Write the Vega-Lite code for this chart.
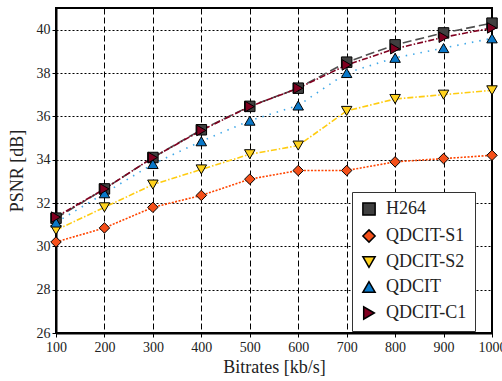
{
  "$schema": "https://vega.github.io/schema/vega-lite/v6.json",
  "width": 436,
  "height": 325,
  "autosize": {"type": "none"},
  "padding": {"left": 56, "top": 8, "right": 10, "bottom": 48},
  "background": "white",
  "config": {
    "font": "Liberation Serif",
    "view": {"stroke": "black", "strokeWidth": 2},
    "axis": {
      "labelFont": "Liberation Serif",
      "titleFont": "Liberation Serif",
      "labelFontSize": 14,
      "titleFontSize": 18,
      "titleFontWeight": "normal",
      "labelColor": "#222",
      "titleColor": "#222",
      "domainColor": "black",
      "domainWidth": 2,
      "tickColor": "black",
      "tickSize": 4,
      "gridColor": "black",
      "gridOpacity": 1,
      "gridWidth": 1,
      "labelFlush": false
    },
    "legend": {
      "labelFont": "Liberation Serif",
      "labelFontSize": 18,
      "labelColor": "#222",
      "fillColor": "white",
      "strokeColor": "#333",
      "padding": 8,
      "rowPadding": 7,
      "symbolSize": 150,
      "labelOffset": 8
    }
  },
  "data": {
    "values": [
      {"series": "H264", "bitrate": 100, "psnr": 31.3},
      {"series": "H264", "bitrate": 200, "psnr": 32.65},
      {"series": "H264", "bitrate": 300, "psnr": 34.1},
      {"series": "H264", "bitrate": 400, "psnr": 35.38},
      {"series": "H264", "bitrate": 500, "psnr": 36.46},
      {"series": "H264", "bitrate": 600, "psnr": 37.3},
      {"series": "H264", "bitrate": 700, "psnr": 38.5},
      {"series": "H264", "bitrate": 800, "psnr": 39.3},
      {"series": "H264", "bitrate": 900, "psnr": 39.85},
      {"series": "H264", "bitrate": 1000, "psnr": 40.3},
      {"series": "QDCIT-S1", "bitrate": 100, "psnr": 30.2},
      {"series": "QDCIT-S1", "bitrate": 200, "psnr": 30.85},
      {"series": "QDCIT-S1", "bitrate": 300, "psnr": 31.8},
      {"series": "QDCIT-S1", "bitrate": 400, "psnr": 32.35},
      {"series": "QDCIT-S1", "bitrate": 500, "psnr": 33.1},
      {"series": "QDCIT-S1", "bitrate": 600, "psnr": 33.5},
      {"series": "QDCIT-S1", "bitrate": 700, "psnr": 33.5},
      {"series": "QDCIT-S1", "bitrate": 800, "psnr": 33.9},
      {"series": "QDCIT-S1", "bitrate": 900, "psnr": 34.05},
      {"series": "QDCIT-S1", "bitrate": 1000, "psnr": 34.2},
      {"series": "QDCIT-S2", "bitrate": 100, "psnr": 30.75},
      {"series": "QDCIT-S2", "bitrate": 200, "psnr": 31.8},
      {"series": "QDCIT-S2", "bitrate": 300, "psnr": 32.85},
      {"series": "QDCIT-S2", "bitrate": 400, "psnr": 33.55},
      {"series": "QDCIT-S2", "bitrate": 500, "psnr": 34.25},
      {"series": "QDCIT-S2", "bitrate": 600, "psnr": 34.65},
      {"series": "QDCIT-S2", "bitrate": 700, "psnr": 36.25},
      {"series": "QDCIT-S2", "bitrate": 800, "psnr": 36.8},
      {"series": "QDCIT-S2", "bitrate": 900, "psnr": 37.0},
      {"series": "QDCIT-S2", "bitrate": 1000, "psnr": 37.2},
      {"series": "QDCIT", "bitrate": 100, "psnr": 31.1},
      {"series": "QDCIT", "bitrate": 200, "psnr": 32.45},
      {"series": "QDCIT", "bitrate": 300, "psnr": 33.8},
      {"series": "QDCIT", "bitrate": 400, "psnr": 34.85},
      {"series": "QDCIT", "bitrate": 500, "psnr": 35.8},
      {"series": "QDCIT", "bitrate": 600, "psnr": 36.5},
      {"series": "QDCIT", "bitrate": 700, "psnr": 38.0},
      {"series": "QDCIT", "bitrate": 800, "psnr": 38.7},
      {"series": "QDCIT", "bitrate": 900, "psnr": 39.15},
      {"series": "QDCIT", "bitrate": 1000, "psnr": 39.6},
      {"series": "QDCIT-C1", "bitrate": 100, "psnr": 31.35},
      {"series": "QDCIT-C1", "bitrate": 200, "psnr": 32.65},
      {"series": "QDCIT-C1", "bitrate": 300, "psnr": 34.1},
      {"series": "QDCIT-C1", "bitrate": 400, "psnr": 35.35},
      {"series": "QDCIT-C1", "bitrate": 500, "psnr": 36.45},
      {"series": "QDCIT-C1", "bitrate": 600, "psnr": 37.3},
      {"series": "QDCIT-C1", "bitrate": 700, "psnr": 38.37},
      {"series": "QDCIT-C1", "bitrate": 800, "psnr": 39.12},
      {"series": "QDCIT-C1", "bitrate": 900, "psnr": 39.65},
      {"series": "QDCIT-C1", "bitrate": 1000, "psnr": 40.08}
    ]
  },
  "encoding": {
    "x": {
      "field": "bitrate", "type": "quantitative",
      "scale": {"domain": [100, 1000], "nice": false, "zero": false},
      "axis": {"values": [100, 200, 300, 400, 500, 600, 700, 800, 900, 1000], "format": "d", "title": "Bitrates [kb/s]", "gridDash": [6, 3], "labelPadding": 3, "titlePadding": 4, "labelFont": "Liberation Serif", "titleFont": "Liberation Serif"}
    },
    "y": {
      "field": "psnr", "type": "quantitative",
      "scale": {"domain": [26, 41], "nice": false, "zero": false},
      "axis": {"values": [26, 28, 30, 32, 34, 36, 38, 40], "title": "PSNR [dB]", "gridDash": [2, 2], "labelPadding": 2, "titlePadding": 10, "labelFont": "Liberation Serif", "titleFont": "Liberation Serif"}
    }
  },
  "layer": [
    {
      "mark": {"type": "line", "strokeWidth": 1.6},
      "encoding": {
        "detail": {"field": "series"},
        "stroke": {
          "field": "series", "type": "nominal",
          "scale": {"domain": ["QDCIT-C1", "QDCIT", "QDCIT-S2", "QDCIT-S1", "H264"], "range": ["#800020", "#40a8e8", "#ffcc10", "#ff4500", "#505050"]},
          "legend": null
        },
        "strokeDash": {
          "field": "series", "type": "nominal",
          "scale": {"domain": ["QDCIT-C1", "QDCIT", "QDCIT-S2", "QDCIT-S1", "H264"], "range": [[6, 2, 1.5, 2], [1.5, 6], [6, 2, 1.5, 2], [2, 1.5], [9, 4]]},
          "legend": null
        }
      }
    },
    {
      "mark": {"type": "point", "filled": true, "size": 110, "stroke": "black", "strokeWidth": 1, "opacity": 1},
      "encoding": {
        "shape": {
          "field": "series", "type": "nominal",
          "scale": {"domain": ["H264", "QDCIT-S1", "QDCIT-S2", "QDCIT", "QDCIT-C1"], "range": ["square", "diamond", "triangle-down", "triangle-up", "triangle-right"]},
          "legend": {
            "title": null, "orient": "none", "legendX": 296, "legendY": 184,
            "labelFont": "Liberation Serif", "labelFontSize": 18,
            "encode": {"symbols": {"update": {"stroke": {"value": "black"}, "strokeWidth": {"value": 1}}}}
          }
        },
        "fill": {
          "field": "series", "type": "nominal",
          "scale": {"domain": ["H264", "QDCIT-S1", "QDCIT-S2", "QDCIT", "QDCIT-C1"], "range": ["#404040", "#f5501a", "#ffd21e", "#0a78c8", "#800020"]},
          "legend": {
            "title": null, "orient": "none", "legendX": 296, "legendY": 184,
            "labelFont": "Liberation Serif", "labelFontSize": 18,
            "encode": {"symbols": {"update": {"stroke": {"value": "black"}, "strokeWidth": {"value": 1}}}}
          }
        }
      }
    }
  ]
}
